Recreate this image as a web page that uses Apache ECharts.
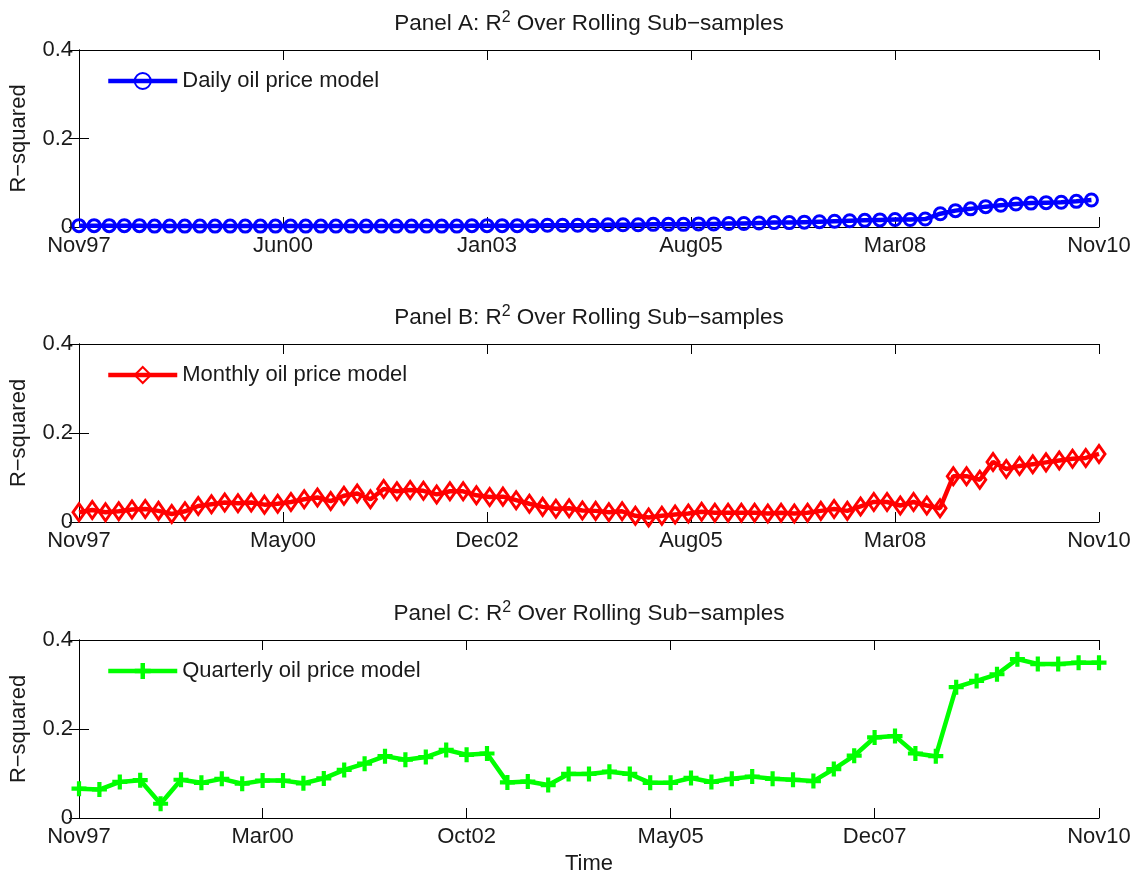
<!DOCTYPE html>
<html>
<head>
<meta charset="utf-8">
<script src="https://cdn.jsdelivr.net/npm/echarts@6/dist/echarts.min.js"></script>
<style>
  html, body { margin: 0; padding: 0; background: #fff; }
  #main { width: 1140px; height: 880px; }
</style>
</head>
<body>
<div id="main"></div>
<script>
// ---- data ----
var dailyR2 = [
  0.003, 0.003, 0.003, 0.003, 0.003, 0.002, 0.002, 0.002, 0.002, 0.002,
  0.002, 0.002, 0.002, 0.002, 0.002, 0.002, 0.002, 0.002, 0.002, 0.002,
  0.002, 0.002, 0.002, 0.002, 0.002, 0.002, 0.003, 0.003, 0.003, 0.003,
  0.003, 0.004, 0.004, 0.004, 0.004, 0.005, 0.005, 0.005, 0.006, 0.006,
  0.006, 0.007, 0.007, 0.008, 0.008, 0.009, 0.010, 0.010, 0.011, 0.012,
  0.013, 0.014, 0.015, 0.016, 0.017, 0.017, 0.018, 0.030, 0.037, 0.041,
  0.046, 0.049, 0.052, 0.054, 0.055, 0.056, 0.058, 0.061
];
var monthlyR2 = [
  0.022, 0.027, 0.022, 0.024, 0.028, 0.029, 0.025, 0.018, 0.024, 0.036,
  0.040, 0.044, 0.042, 0.044, 0.039, 0.041, 0.045, 0.051, 0.055, 0.047,
  0.059, 0.064, 0.051, 0.074, 0.069, 0.072, 0.070, 0.062, 0.069, 0.069,
  0.060, 0.056, 0.057, 0.049, 0.041, 0.034, 0.030, 0.031, 0.026, 0.025,
  0.022, 0.024, 0.014, 0.010, 0.014, 0.017, 0.019, 0.023, 0.021, 0.021,
  0.021, 0.021, 0.019, 0.021, 0.019, 0.021, 0.025, 0.029, 0.025, 0.035,
  0.045, 0.045, 0.037, 0.045, 0.037, 0.031, 0.103, 0.103, 0.095, 0.135,
  0.119, 0.126, 0.130, 0.134, 0.138, 0.142, 0.144, 0.153
];
var quarterlyR2 = [
  0.066, 0.064, 0.081, 0.085, 0.032, 0.086, 0.079, 0.088, 0.077, 0.084,
  0.084, 0.078, 0.089, 0.108, 0.122, 0.139, 0.131, 0.137, 0.153, 0.142,
  0.145, 0.080, 0.082, 0.074, 0.099, 0.099, 0.104, 0.099, 0.079, 0.079,
  0.090, 0.081, 0.088, 0.093, 0.088, 0.086, 0.083, 0.110, 0.140, 0.181,
  0.184, 0.145, 0.139, 0.294, 0.308, 0.323, 0.357, 0.346, 0.346, 0.349,
  0.349
];
var xTickLabelsA = ['Nov97', 'Jun00', 'Jan03', 'Aug05', 'Mar08', 'Nov10'];
var xTickLabelsB = ['Nov97', 'May00', 'Dec02', 'Aug05', 'Mar08', 'Nov10'];
var xTickLabelsC = ['Nov97', 'Mar00', 'Oct02', 'May05', 'Dec07', 'Nov10'];
var xTickIndexC = [0, 9, 19, 29, 39, 50];
var yTicks = [0, 0.2, 0.4];
var panelNames = ['A', 'B', 'C'];
var seriesNames = ['Daily oil price model', 'Monthly oil price model', 'Quarterly oil price model'];

var FONT = '"Liberation Sans", Arial, Helvetica, sans-serif';
var TXT = '#1a1a1a';
var plusPath = 'path://M3.6,0 H6.4 V3.6 H10 V6.4 H6.4 V10 H3.6 V6.4 H0 V3.6 H3.6 Z';

function evenTicks(xMax) {
  return [0, 1, 2, 3, 4, 5].map(function (i) { return i * xMax / 5; });
}

var panels = [
  { data: dailyR2, xMax: dailyR2.length - 0.5, ticks: evenTicks(dailyR2.length - 0.5), labels: xTickLabelsA,
    color: '#0000ff', symbol: 'circle', symbolSize: 12, fill: 'transparent', border: 3, top: 50, height: 177 },
  { data: monthlyR2, xMax: monthlyR2.length - 1, ticks: evenTicks(monthlyR2.length - 1), labels: xTickLabelsB,
    color: '#ff0000', symbol: 'diamond', symbolSize: [12, 17], fill: 'transparent', border: 3, top: 344, height: 178 },
  { data: quarterlyR2, xMax: quarterlyR2.length - 1, ticks: xTickIndexC, labels: xTickLabelsC,
    color: '#00ff00', symbol: plusPath, symbolSize: 15, fill: '#00ff00', border: 0, top: 640, height: 178 }
];

var option = {
  backgroundColor: '#fff',
  animation: false,
  textStyle: { fontFamily: FONT },
  title: [], grid: [], xAxis: [], yAxis: [], legend: [], series: []
};

panels.forEach(function (p, k) {
  var line = { color: '#000', width: 1 };
  option.title.push({
    text: 'Panel ' + panelNames[k] + ': R{sup|2} Over Rolling Sub\u2212samples',
    left: 589, top: p.top - 40, textAlign: 'center', padding: 0,
    textStyle: {
      fontFamily: FONT, fontSize: 22.5, fontWeight: 'normal', color: TXT,
      rich: { sup: { fontSize: 16, fontFamily: FONT, color: TXT, padding: [0, 0, 11, 0] } }
    }
  });
  option.grid.push({ left: 79, right: 41, top: p.top, height: p.height, outerBoundsMode: 'none' });
  option.xAxis.push({
    type: 'value', gridIndex: k, min: 0, max: p.xMax, position: 'bottom',
    name: k === 2 ? 'Time' : '', nameLocation: 'middle', nameGap: 35,
    nameTextStyle: { fontFamily: FONT, fontSize: 22, color: TXT },
    axisLine: { onZero: false, lineStyle: line },
    axisTick: { inside: true, length: 10, customValues: p.ticks, lineStyle: line },
    axisLabel: {
      customValues: p.ticks, margin: 8, fontFamily: FONT, fontSize: 22, color: TXT,
      formatter: function (v) {
        for (var i = 0; i < p.ticks.length; i++) {
          if (Math.abs(p.ticks[i] - v) < 1e-6) return p.labels[i];
        }
        return '';
      }
    },
    splitLine: { show: false }
  });
  option.xAxis.push({
    type: 'value', gridIndex: k, min: 0, max: p.xMax, position: 'top',
    axisLine: { onZero: false, lineStyle: line },
    axisTick: { inside: true, length: 10, customValues: p.ticks, lineStyle: line },
    axisLabel: { show: false }, splitLine: { show: false }
  });
  option.yAxis.push({
    type: 'value', gridIndex: k, min: yTicks[0], max: yTicks[yTicks.length - 1], interval: 0.2,
    name: 'R\u2212squared', nameLocation: 'middle', nameGap: 49, nameRotate: 90,
    nameTextStyle: { fontFamily: FONT, fontSize: 22, color: TXT },
    axisLine: { show: true, lineStyle: line },
    axisTick: { inside: true, length: 10, lineStyle: line },
    axisLabel: { margin: 6, fontFamily: FONT, fontSize: 22, color: TXT },
    splitLine: { show: false }
  });
  option.yAxis.push({
    type: 'value', gridIndex: k, min: yTicks[0], max: yTicks[yTicks.length - 1], interval: 0.2,
    position: 'right',
    axisLine: { show: true, lineStyle: line },
    axisTick: { inside: true, length: 10, lineStyle: line },
    axisLabel: { show: false }, splitLine: { show: false }
  });
  option.legend.push({
    data: [seriesNames[k]], left: 106, top: p.top + 20, selectedMode: false, padding: 0,
    itemWidth: 69, itemHeight: 20, itemGap: 10,
    lineStyle: { width: 4.5 },
    textStyle: { fontFamily: FONT, fontSize: 22, color: TXT, padding: [0, 0, 0, 0] }
  });
  option.series.push({
    name: seriesNames[k], type: 'line', xAxisIndex: 2 * k, yAxisIndex: 2 * k,
    data: p.data.map(function (v, i) { return [i, v]; }),
    symbol: p.symbol, symbolSize: p.symbolSize, showAllSymbol: true, clip: false,
    lineStyle: { color: p.color, width: 4.5 },
    itemStyle: { color: p.fill, borderColor: p.color, borderWidth: p.border },
    z: 3
  });
});

var chart = echarts.init(document.getElementById('main'));
chart.setOption(option);
</script>
</body>
</html>
